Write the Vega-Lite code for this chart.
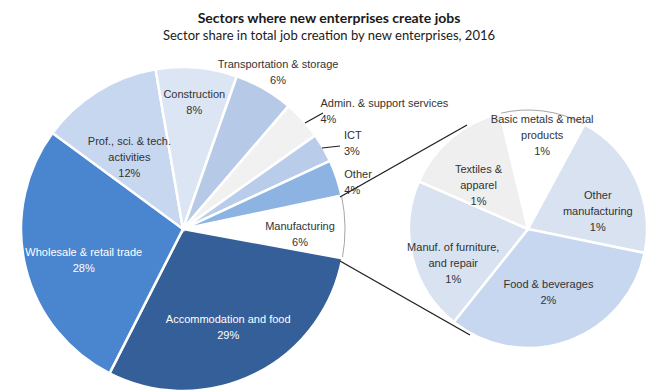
{
  "$schema": "https://vega.github.io/schema/vega-lite/v6.json",
  "width": 658,
  "height": 392,
  "autosize": {"type": "none"},
  "padding": 0,
  "background": "white",
  "title": {
    "text": "Sectors where new enterprises create jobs",
    "subtitle": "Sector share in total job creation by new enterprises, 2016",
    "anchor": "middle",
    "frame": "group",
    "font": "Lato",
    "fontSize": 14,
    "fontWeight": "bold",
    "color": "#1a1a1a",
    "subtitleFont": "Lato",
    "subtitleFontSize": 13,
    "subtitleColor": "#1a1a1a",
    "subtitlePadding": 4,
    "offset": -43
  },
  "datasets": {
    "sectors": [
      {"pie": "Total", "rank": 1, "sector": "Manufacturing", "share": 6.2, "label": ["Manufacturing", "6%"]},
      {"pie": "Total", "rank": 2, "sector": "Accommodation and food", "share": 29.6, "label": ["Accommodation  and food", "29%"]},
      {"pie": "Total", "rank": 3, "sector": "Wholesale & retail trade", "share": 27.6, "label": ["Wholesale & retail trade", "28%"]},
      {"pie": "Total", "rank": 4, "sector": "Prof., sci. & tech. activities", "share": 12.2, "label": ["Prof., sci. & tech.", "activities", "12%"]},
      {"pie": "Total", "rank": 5, "sector": "Construction", "share": 8.1, "label": ["Construction", "8%"]},
      {"pie": "Total", "rank": 6, "sector": "Transportation & storage", "share": 5.9, "label": ["Transportation & storage", "6%"]},
      {"pie": "Total", "rank": 7, "sector": "Admin. & support services", "share": 3.9, "label": ["Admin. & support services", "4%"]},
      {"pie": "Total", "rank": 8, "sector": "ICT", "share": 2.9, "label": ["ICT", "3%"]},
      {"pie": "Total", "rank": 9, "sector": "Other", "share": 3.6, "label": ["Other", "4%"]},
      {"pie": "Manufacturing", "rank": 1, "sector": "Basic metals & metal products", "share": 0.7, "label": ["Basic metals & metal", "products", "1%"]},
      {"pie": "Manufacturing", "rank": 2, "sector": "Other manufacturing", "share": 1.22, "label": ["Other", "manufacturing", "1%"]},
      {"pie": "Manufacturing", "rank": 3, "sector": "Food & beverages", "share": 1.95, "label": ["Food & beverages", "2%"]},
      {"pie": "Manufacturing", "rank": 4, "sector": "Manuf. of furniture, and repair", "share": 1.25, "label": ["Manuf. of furniture,", "and repair", "1%"]},
      {"pie": "Manufacturing", "rank": 5, "sector": "Textiles & apparel", "share": 0.88, "label": ["Textiles &", "apparel", "1%"]}
    ],
    "links": [
      {"from": "Total", "to": "Manufacturing"}
    ]
  },
  "layer": [
    {
      "data": {"name": "sectors"},
      "transform": [{"filter": "datum.pie === 'Total'"}],
      "encoding": {
        "x": {"field": "pie", "type": "nominal", "axis": null, "scale": {"type": "point", "domain": ["Total", "Manufacturing"], "range": [183, 528], "padding": 0}},
        "y": {"datum": 0, "type": "quantitative", "axis": null, "scale": {"domain": [-0.7117, 1], "zero": false, "nice": false}},
        "theta": {"field": "share", "type": "quantitative", "stack": true, "scale": {"range": [1.363, 7.646]}},
        "order": {"field": "rank", "type": "quantitative"},
        "detail": {"field": "sector", "type": "nominal"}
      },
      "layer": [
        {
          "mark": {"type": "arc", "outerRadius": 162},
          "encoding": {
            "color": {
              "field": "sector", "type": "nominal", "legend": null,
              "scale": {
                "domain": ["Manufacturing", "Accommodation and food", "Wholesale & retail trade", "Prof., sci. & tech. activities", "Construction", "Transportation & storage", "Admin. & support services", "ICT", "Other", "Basic metals & metal products", "Other manufacturing", "Food & beverages", "Manuf. of furniture, and repair", "Textiles & apparel"],
                "range": ["#FFFFFF", "#355F98", "#4A85D0", "#C6D7EF", "#DBE5F3", "#B6CAE7", "#F1F1F1", "#B9CDEA", "#8DB3E3", "#FFFFFF", "#D8E2F1", "#C7D7F0", "#D8E2F1", "#EFEFEF"]
              }
            },
            "stroke": {"condition": {"test": "datum.sector === 'Manufacturing'", "value": "#a6a6a6"}, "value": "#ffffff"},
            "strokeWidth": {"condition": {"test": "datum.sector === 'Manufacturing'", "value": 1}, "value": 2.5}
          }
        },
        {
          "mark": {"type": "text", "radius": 102, "font": "Liberation Sans", "fontSize": 11, "lineHeight": 16, "align": "center", "baseline": "middle"},
          "encoding": {
            "text": {"condition": {"test": "indexof(['Accommodation and food','Wholesale & retail trade','Prof., sci. & tech. activities'], datum.sector) >= 0", "field": "label", "type": "nominal"}, "value": ""},
            "color": {"condition": {"test": "datum.sector === 'Accommodation and food' || datum.sector === 'Wholesale & retail trade'", "value": "#ffffff"}, "value": "#333333"}
          }
        },
        {
          "mark": {"type": "text", "radius": 134, "font": "Liberation Sans", "fontSize": 11, "lineHeight": 16, "align": "center", "baseline": "middle", "color": "#333333"},
          "encoding": {
            "text": {"condition": {"test": "datum.sector === 'Construction'", "field": "label", "type": "nominal"}, "value": ""}
          }
        },
        {
          "mark": {"type": "text", "radius": 117, "font": "Liberation Sans", "fontSize": 11, "lineHeight": 16, "align": "center", "baseline": "middle", "color": "#333333"},
          "encoding": {
            "text": {"condition": {"test": "datum.sector === 'Manufacturing'", "field": "label", "type": "nominal"}, "value": ""}
          }
        },
        {
          "mark": {"type": "text", "radius": 190, "font": "Liberation Sans", "fontSize": 11, "lineHeight": 16, "align": "center", "baseline": "middle", "color": "#333333"},
          "encoding": {
            "text": {"condition": {"test": "datum.sector === 'Transportation & storage'", "field": "label", "type": "nominal"}, "value": ""}
          }
        },
        {
          "mark": {"type": "text", "radius": 186, "font": "Liberation Sans", "fontSize": 11, "lineHeight": 16, "align": "left", "baseline": "middle", "color": "#333333"},
          "encoding": {
            "text": {"condition": {"test": "indexof(['Admin. & support services','ICT'], datum.sector) >= 0", "field": "label", "type": "nominal"}, "value": ""}
          }
        },
        {
          "mark": {"type": "text", "radius": 170, "font": "Liberation Sans", "fontSize": 11, "lineHeight": 16, "align": "left", "baseline": "middle", "color": "#333333"},
          "encoding": {
            "text": {"condition": {"test": "datum.sector === 'Other'", "field": "label", "type": "nominal"}, "value": ""}
          }
        }
      ]
    },
    {
      "data": {"name": "sectors"},
      "transform": [{"filter": "datum.pie === 'Manufacturing'"}],
      "encoding": {
        "x": {"field": "pie", "type": "nominal", "axis": null},
        "y": {"datum": 0, "type": "quantitative", "axis": null},
        "theta": {"field": "share", "type": "quantitative", "stack": true, "scale": {"range": [-0.2374, 6.0458]}},
        "order": {"field": "rank", "type": "quantitative"},
        "detail": {"field": "sector", "type": "nominal"}
      },
      "layer": [
        {
          "mark": {"type": "arc", "outerRadius": 119},
          "encoding": {
            "color": {"field": "sector", "type": "nominal", "legend": null},
            "stroke": {"condition": {"test": "datum.sector === 'Basic metals & metal products'", "value": "#a6a6a6"}, "value": "#ffffff"},
            "strokeWidth": {"condition": {"test": "datum.sector === 'Basic metals & metal products'", "value": 1}, "value": 2.5}
          }
        },
        {
          "mark": {"type": "text", "radius": 77, "font": "Liberation Sans", "fontSize": 11, "lineHeight": 16, "align": "center", "baseline": "middle", "color": "#333333"},
          "encoding": {
            "text": {"condition": {"test": "indexof(['Other manufacturing','Manuf. of furniture, and repair','Textiles & apparel'], datum.sector) >= 0", "field": "label", "type": "nominal"}, "value": ""}
          }
        },
        {
          "mark": {"type": "text", "radius": 60, "font": "Liberation Sans", "fontSize": 11, "lineHeight": 16, "align": "center", "baseline": "middle", "color": "#333333"},
          "encoding": {
            "text": {"condition": {"test": "datum.sector === 'Food & beverages'", "field": "label", "type": "nominal"}, "value": ""}
          }
        },
        {
          "mark": {"type": "text", "radius": 110, "font": "Liberation Sans", "fontSize": 11, "lineHeight": 16, "align": "center", "baseline": "middle", "color": "#333333"},
          "encoding": {
            "text": {"condition": {"test": "datum.sector === 'Basic metals & metal products'", "field": "label", "type": "nominal"}, "value": ""}
          }
        }
      ]
    },
    {
      "data": {"name": "links"},
      "mark": {"type": "rule", "color": "#1f1f1f", "strokeWidth": 1.3, "xOffset": 157, "x2Offset": -61, "yOffset": -32, "y2Offset": -104},
      "encoding": {
        "x": {"field": "from", "type": "nominal", "axis": null},
        "x2": {"field": "to"},
        "y": {"datum": 0, "type": "quantitative", "axis": null},
        "y2": {"datum": 0}
      }
    },
    {
      "data": {"name": "links"},
      "mark": {"type": "rule", "color": "#1f1f1f", "strokeWidth": 1.3, "xOffset": 157, "x2Offset": -58, "yOffset": 32, "y2Offset": 106},
      "encoding": {
        "x": {"field": "from", "type": "nominal", "axis": null},
        "x2": {"field": "to"},
        "y": {"datum": 0, "type": "quantitative", "axis": null},
        "y2": {"datum": 0}
      }
    },
    {
      "data": {"name": "links"},
      "mark": {"type": "rule", "color": "#1f1f1f", "strokeWidth": 1.2, "xOffset": 122, "x2Offset": 140, "yOffset": -106, "y2Offset": -116},
      "encoding": {
        "x": {"field": "from", "type": "nominal", "axis": null},
        "x2": {"field": "from"},
        "y": {"datum": 0, "type": "quantitative", "axis": null},
        "y2": {"datum": 0}
      }
    },
    {
      "data": {"name": "links"},
      "mark": {"type": "rule", "color": "#1f1f1f", "strokeWidth": 1.2, "xOffset": 139, "x2Offset": 157, "yOffset": -81, "y2Offset": -83},
      "encoding": {
        "x": {"field": "from", "type": "nominal", "axis": null},
        "x2": {"field": "from"},
        "y": {"datum": 0, "type": "quantitative", "axis": null},
        "y2": {"datum": 0}
      }
    }
  ],
  "resolve": {"scale": {"theta": "independent"}},
  "config": {"view": {"stroke": null}}
}
